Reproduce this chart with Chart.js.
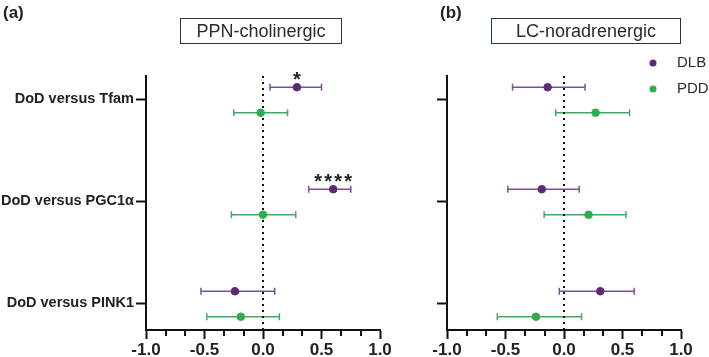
<!DOCTYPE html>
<html>
<head>
<meta charset="utf-8">
<script src="https://cdn.jsdelivr.net/npm/chart.js@4"></script>
<style>
  body { margin: 0; background: #fff; width: 709px; height: 357px; overflow: hidden; position: relative; font-family: 'Liberation Sans', Arial, sans-serif; }
  canvas { position: absolute; top: 0; }
  #ca { left: 0; }
  #cb { left: 400px; }
  .tag { position: absolute; top: 3px; font-weight: bold; font-size: 17px; color: #222; }
  .box { position: absolute; top: 18px; height: 24px; border: 1.5px solid #23394a; font-size: 18px; color: #2b2b2b; text-align: center; line-height: 25px; }
</style>
</head>
<body>
<canvas id="ca" width="400" height="357"></canvas>
<canvas id="cb" width="309" height="357"></canvas>
<div class="tag" style="left:3px">(a)</div>
<div class="tag" style="left:440px">(b)</div>
<div class="box" style="left:180px; width:160px">PPN-cholinergic</div>
<div class="box" style="left:491px; width:188px">LC-noradrenergic</div>
<script>
const categories = ['DoD versus Tfam', 'DoD versus PGC1α', 'DoD versus PINK1'];
const xTicks = [-1.0, -0.5, 0.0, 0.5, 1.0];

// PPN-cholinergic
const ppnDlb   = [0.29, 0.60, -0.24];
const ppnDlbLo = [0.06, 0.39, -0.53];
const ppnDlbHi = [0.50, 0.75, 0.10];
const ppnPdd   = [-0.02, 0.00, -0.19];
const ppnPddLo = [-0.25, -0.27, -0.48];
const ppnPddHi = [0.21, 0.28, 0.14];
const ppnStars = ['*', '****', ''];

// LC-noradrenergic
const lcDlb   = [-0.14, -0.19, 0.31];
const lcDlbLo = [-0.44, -0.48, -0.04];
const lcDlbHi = [0.18, 0.13, 0.60];
const lcPdd   = [0.27, 0.21, -0.24];
const lcPddLo = [-0.07, -0.17, -0.57];
const lcPddHi = [0.56, 0.53, 0.15];

const DLB_SHIFT = -0.12, PDD_SHIFT = 0.13;
const Y_MIN = -0.23, Y_MAX = 2.26;
const FONT = "'Liberation Sans', Arial, sans-serif";
const dlbCol = '#5b2a78', dlbBar = '#7e4f95';
const pddCol = '#2bae4e', pddBar = '#45a865';
const axisCol = '#111';

function pts(vals, shift) {
  return vals.map((v, i) => ({ x: v, y: i + shift }));
}
function isMajor(v) {
  return xTicks.some(t => Math.abs(t - v) < 1e-6);
}

// error bars drawn from lo/hi arrays through the scales
const errorBars = {
  id: 'errorBars',
  beforeDatasetsDraw(chart) {
    const ctx = chart.ctx, xs = chart.scales.x, ys = chart.scales.y;
    chart.data.datasets.forEach(ds => {
      if (!ds.lo) return;
      ctx.save();
      ctx.strokeStyle = ds.barColor;
      ctx.lineWidth = 1.5;
      ds.data.forEach((p, i) => {
        const y = ys.getPixelForValue(p.y);
        const x1 = xs.getPixelForValue(ds.lo[i]), x2 = xs.getPixelForValue(ds.hi[i]);
        ctx.beginPath();
        ctx.moveTo(x1, y); ctx.lineTo(x2, y);
        ctx.moveTo(x1, y - 3.5); ctx.lineTo(x1, y + 3.5);
        ctx.moveTo(x2, y - 3.5); ctx.lineTo(x2, y + 3.5);
        ctx.stroke();
      });
      ctx.restore();
    });
  },
  afterDatasetsDraw(chart) {
    const stars = chart.options.plugins.errorBars && chart.options.plugins.errorBars.stars;
    if (!stars) return;
    const ctx = chart.ctx, xs = chart.scales.x, ys = chart.scales.y;
    const ds = chart.data.datasets[1];
    ctx.save();
    ctx.fillStyle = '#222';
    ctx.font = 'bold 20px ' + FONT;
    ctx.textAlign = 'center';
    ctx.textBaseline = 'alphabetic';
    stars.forEach((s, i) => {
      if (!s) return;
      const cx = xs.getPixelForValue(ds.data[i].x);
      const by = ys.getPixelForValue(ds.data[i].y) - 1;
      const step = 10;
      const start = cx - (s.length - 1) * step / 2;
      for (let k = 0; k < s.length; k++) ctx.fillText(s[k], start + k * step, by);
    });
    ctx.restore();
  }
};

// shorter minor ticks on the x axis
const minorTicks = {
  id: 'minorTicks',
  afterDraw(chart) {
    const ctx = chart.ctx, xs = chart.scales.x, a = chart.chartArea;
    ctx.save();
    ctx.strokeStyle = axisCol;
    ctx.lineWidth = 2;
    xs.ticks.forEach(t => {
      if (isMajor(t.value)) return;
      const x = Math.round(xs.getPixelForValue(t.value));
      ctx.beginPath();
      ctx.moveTo(x, a.bottom); ctx.lineTo(x, a.bottom + 6);
      ctx.stroke();
    });
    ctx.restore();
  }
};

const legendDots = {
  id: 'legendDots',
  afterDraw(chart) {
    if (!chart.options.plugins.legendDots || !chart.options.plugins.legendDots.show) return;
    const ctx = chart.ctx, a = chart.chartArea;
    const items = [['DLB', dlbCol, a.top - 13], ['PDD', pddCol, a.top + 13]];
    ctx.save();
    ctx.font = '15px ' + FONT;
    ctx.textBaseline = 'middle';
    items.forEach(([t, c, y]) => {
      ctx.fillStyle = c;
      ctx.beginPath(); ctx.arc(a.right - 28, y, 3.5, 0, Math.PI * 2); ctx.fill();
      ctx.fillStyle = '#2b2b2b';
      ctx.fillText(t, a.right - 4, y);
    });
    ctx.restore();
  }
};

function makeChart(id, dlb, dlbLo, dlbHi, pdd, pddLo, pddHi, opts) {
  return new Chart(document.getElementById(id), {
    type: 'scatter',
    data: {
      datasets: [
        { label: 'zero', data: [{ x: 0, y: Y_MIN }, { x: 0, y: Y_MAX }], showLine: true,
          borderColor: axisCol, borderWidth: 2, borderDash: [2, 4], pointRadius: 0, order: 10 },
        { label: 'DLB', data: pts(dlb, DLB_SHIFT), lo: dlbLo, hi: dlbHi, barColor: dlbBar,
          backgroundColor: dlbCol, borderColor: dlbCol, pointRadius: 3.8, order: 1 },
        { label: 'PDD', data: pts(pdd, PDD_SHIFT), lo: pddLo, hi: pddHi, barColor: pddBar,
          backgroundColor: pddCol, borderColor: pddCol, pointRadius: 3.8, order: 1 }
      ]
    },
    options: {
      responsive: false,
      animation: false,
      events: [],
      layout: { padding: { top: 76, right: opts.padRight, bottom: 0, left: 0 } },
      plugins: {
        legend: { display: false },
        tooltip: { enabled: false },
        errorBars: { stars: opts.stars },
        legendDots: { show: opts.legend }
      },
      scales: {
        x: {
          type: 'linear', min: -1, max: 1,
          border: { display: true, color: axisCol, width: 2 },
          grid: {
            drawOnChartArea: false, drawTicks: true, tickLength: 9, tickWidth: 2,
            tickColor: c => (c.tick && isMajor(c.tick.value)) ? axisCol : 'rgba(0,0,0,0)'
          },
          afterBuildTicks: s => {
            const t = [];
            for (let i = 0; i < xTicks.length - 1; i++) {
              const a = xTicks[i], b = xTicks[i + 1];
              t.push({ value: a }, { value: a + (b - a) / 3 }, { value: a + 2 * (b - a) / 3 });
            }
            t.push({ value: xTicks[xTicks.length - 1] });
            s.ticks = t;
          },
          afterFit: s => { s.height = 27; },
          ticks: {
            autoSkip: false, maxRotation: 0, padding: 1, color: '#222',
            font: { family: FONT, size: 17, weight: 'bold' },
            callback: v => isMajor(v) ? xTicks.find(t => Math.abs(t - v) < 1e-6).toFixed(1) : ''
          }
        },
        y: {
          type: 'linear', min: Y_MIN, max: Y_MAX, reverse: true,
          border: { display: true, color: axisCol, width: 2 },
          grid: { drawOnChartArea: false, drawTicks: true, tickLength: 10, tickWidth: 2, tickColor: axisCol },
          afterBuildTicks: s => { s.ticks = categories.map((c, i) => ({ value: i })); },
          afterFit: s => { s.width = opts.yWidth; },
          ticks: {
            autoSkip: false, padding: 2, color: '#222',
            font: { family: FONT, size: 14.5, weight: 'bold' },
            callback: v => opts.showLabels ? categories[v] : ''
          }
        }
      }
    },
    plugins: [errorBars, minorTicks, legendDots]
  });
}

makeChart('ca', ppnDlb, ppnDlbLo, ppnDlbHi, ppnPdd, ppnPddLo, ppnPddHi,
  { padRight: 20, yWidth: 146, showLabels: true, stars: ppnStars, legend: false });
makeChart('cb', lcDlb, lcDlbLo, lcDlbHi, lcPdd, lcPddLo, lcPddHi,
  { padRight: 28, yWidth: 47, showLabels: false, stars: null, legend: true });
</script>
</body>
</html>
